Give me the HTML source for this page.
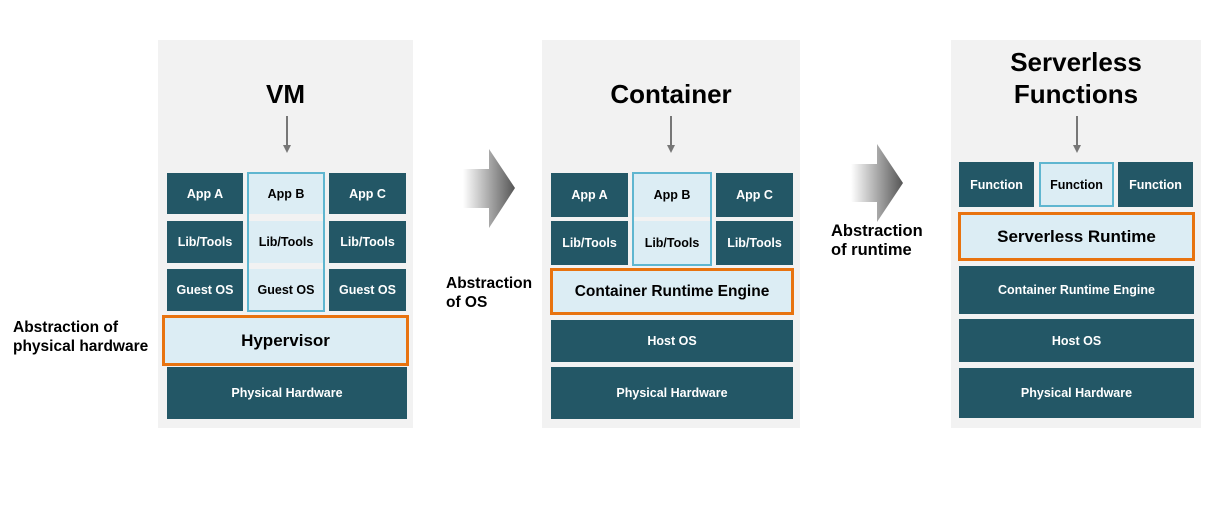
<!DOCTYPE html>
<html><head><style>
*{margin:0;padding:0;box-sizing:border-box}
body{width:1218px;height:507px;background:#fff;position:relative;overflow:hidden;font-family:"Liberation Sans",Arial,sans-serif}
.p{position:absolute;background:#f2f2f2}
.b{position:absolute;background:#235766;color:#fff;font-weight:bold;font-size:12.5px;display:flex;align-items:center;justify-content:center;text-align:center}
.l{position:absolute;background:#dcedf4;color:#000;font-weight:bold;font-size:12.5px;display:flex;align-items:center;justify-content:center}
.o{position:absolute;border:3px solid #e8730f;background:#dcedf4;color:#000;font-weight:bold;font-size:17px;display:flex;align-items:center;justify-content:center}
.t{position:absolute;font-weight:bold;font-size:26px;text-align:center;color:#000;line-height:32px}
.lab{position:absolute;font-weight:bold;font-size:15.5px;line-height:19px;color:#000}
.bb{position:absolute;border:2px solid #5fb6d0}
.ar{position:absolute;width:2px;background:#777}
.ah{position:absolute;width:0;height:0;border-left:4px solid transparent;border-right:4px solid transparent;border-top:8px solid #777}
</style></head><body>
<!-- VM -->
<div class="p" style="left:158px;top:40px;width:255px;height:388px"></div>
<div class="t" style="left:158px;top:78px;width:255px">VM</div>
<div class="ar" style="left:286px;top:116px;height:30px"></div><div class="ah" style="left:283px;top:145px"></div>
<div class="b" style="left:167px;top:173px;width:76px;height:41px">App A</div>
<div class="l" style="left:248px;top:173px;width:76px;height:41px">App B</div>
<div class="b" style="left:329px;top:173px;width:77px;height:41px">App C</div>
<div class="b" style="left:167px;top:221px;width:76px;height:42px">Lib/Tools</div>
<div class="l" style="left:248px;top:221px;width:76px;height:42px">Lib/Tools</div>
<div class="b" style="left:329px;top:221px;width:77px;height:42px">Lib/Tools</div>
<div class="b" style="left:167px;top:269px;width:76px;height:42px">Guest OS</div>
<div class="l" style="left:248px;top:269px;width:76px;height:42px">Guest OS</div>
<div class="b" style="left:329px;top:269px;width:77px;height:42px">Guest OS</div>
<div class="bb" style="left:247px;top:172px;width:78px;height:140px"></div>
<div class="o" style="left:162px;top:315px;width:247px;height:51px">Hypervisor</div>
<div class="b" style="left:167px;top:367px;width:240px;height:52px">Physical Hardware</div>
<div class="lab" style="left:13px;top:318px">Abstraction of<br>physical hardware</div>
<!-- arrow 1 -->
<svg style="position:absolute;left:460px;top:145px" width="60" height="90"><defs><linearGradient id="g" x1="0" x2="1"><stop offset="0" stop-color="#fff"/><stop offset="1" stop-color="#555"/></linearGradient></defs><polygon points="3,24 29,24 29,4 55,43 29,83 29,63 3,63" fill="url(#g)"/></svg>
<div class="lab" style="left:446px;top:274px">Abstraction<br>of OS</div>
<!-- Container -->
<div class="p" style="left:542px;top:40px;width:258px;height:388px"></div>
<div class="t" style="left:542px;top:78px;width:258px">Container</div>
<div class="ar" style="left:670px;top:116px;height:30px"></div><div class="ah" style="left:667px;top:145px"></div>
<div class="b" style="left:551px;top:173px;width:77px;height:44px">App A</div>
<div class="l" style="left:633px;top:173px;width:78px;height:44px">App B</div>
<div class="b" style="left:716px;top:173px;width:77px;height:44px">App C</div>
<div class="b" style="left:551px;top:221px;width:77px;height:44px">Lib/Tools</div>
<div class="l" style="left:633px;top:221px;width:78px;height:44px">Lib/Tools</div>
<div class="b" style="left:716px;top:221px;width:77px;height:44px">Lib/Tools</div>
<div class="bb" style="left:632px;top:172px;width:80px;height:94px"></div>
<div class="o" style="left:550px;top:268px;width:244px;height:47px;font-size:15.5px">Container Runtime Engine</div>
<div class="b" style="left:551px;top:320px;width:242px;height:42px">Host OS</div>
<div class="b" style="left:551px;top:367px;width:242px;height:52px">Physical Hardware</div>
<!-- arrow 2 -->
<svg style="position:absolute;left:848px;top:140px" width="60" height="90"><defs><linearGradient id="g2" x1="0" x2="1"><stop offset="0" stop-color="#fff"/><stop offset="1" stop-color="#555"/></linearGradient></defs><polygon points="3,24 29,24 29,4 55,43 29,82 29,62 3,62" fill="url(#g2)"/></svg>
<div class="lab" style="left:831px;top:222px;font-size:16.5px">Abstraction<br>of runtime</div>
<!-- Serverless -->
<div class="p" style="left:951px;top:40px;width:250px;height:388px"></div>
<div class="t" style="left:951px;top:46px;width:250px">Serverless<br>Functions</div>
<div class="ar" style="left:1076px;top:116px;height:30px"></div><div class="ah" style="left:1073px;top:145px"></div>
<div class="b" style="left:959px;top:162px;width:75px;height:45px">Function</div>
<div class="l" style="left:1039px;top:162px;width:75px;height:45px;border:2px solid #5fb6d0">Function</div>
<div class="b" style="left:1118px;top:162px;width:75px;height:45px">Function</div>
<div class="o" style="left:958px;top:212px;width:237px;height:49px">Serverless Runtime</div>
<div class="b" style="left:959px;top:266px;width:235px;height:48px">Container Runtime Engine</div>
<div class="b" style="left:959px;top:319px;width:235px;height:43px">Host OS</div>
<div class="b" style="left:959px;top:368px;width:235px;height:50px">Physical Hardware</div>
</body></html>
